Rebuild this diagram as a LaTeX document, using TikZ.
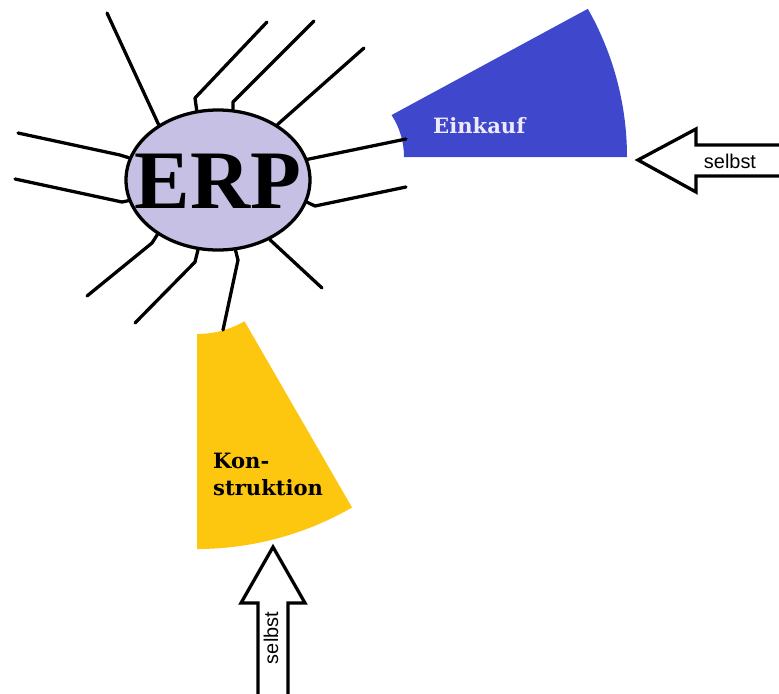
\documentclass[tikz,border=0pt]{standalone}
\usepackage{fontspec}
\setmainfont{Liberation Serif}
\newfontfamily\labelfont{DejaVu Serif}
\newfontfamily\arrowfont{Liberation Sans}
\usepackage{tikz}
\usetikzlibrary{shapes.geometric, calc}
\usepackage{xcolor}
\definecolor{erpfill}{HTML}{C5C0E4}
\definecolor{einkaufblue}{HTML}{3F48CC}
\definecolor{einkauftext}{HTML}{EFEAF8}
\definecolor{konstrgelb}{HTML}{FDC70F}

\begin{document}
\begin{tikzpicture}[
    x=0.3mm, y=0.3mm,
    spoke/.style={line width=2.8pt, line join=round, line cap=round},
    hollow/.style={draw, line width=2.8pt, line join=miter, fill=white},
    lbl/.style={font=\labelfont\bfseries\fontsize{18}{23}\selectfont, align=left, inner sep=0pt},
    selbstlbl/.style={font=\arrowfont\fontsize{17}{20}\selectfont, inner sep=0pt},
]
    \useasboundingbox (0,0) rectangle (779,-693);

    % Sectors
    \coordinate (ecenter) at (327,-157);
    \coordinate (kcenter) at (197,-239);
    \fill[einkaufblue] ($(ecenter)+(0:77)$) arc[start angle=0, end angle=33, radius=77]
        -- ($(ecenter)+(29.6:300)$) arc[start angle=29.6, end angle=0, radius=300] -- cycle;
    \fill[konstrgelb] ($(kcenter)+(-90:95)$) arc[start angle=-90, end angle=-60, radius=95]
        -- ($(kcenter)+(-60:310)$) arc[start angle=-60, end angle=-90, radius=310] -- cycle;
    \node[lbl, text=einkauftext, anchor=base west] (einkauf) at (433,-133) {Einkauf};
    \node[lbl, anchor=north west] (konstruktion) at (213,-453) {Kon-\\struktion};

    % ERP
    \node[ellipse, draw, line width=2.8pt, fill=erpfill, inner sep=0pt,
          minimum width=55.2mm, minimum height=42mm,
          label={[font=\bfseries\fontsize{71}{75}\selectfont, inner sep=0pt, yshift=-0.4mm]center:ERP}] (erp) at (218,-180) {};

    % Spokes
    \coordinate (s1) at (107,-13);
    \coordinate (s2) at (267,-22);
    \coordinate (s3) at (314,-21);
    \coordinate (s4) at (364,-48);
    \coordinate (s5) at (18,-133);
    \coordinate (s6) at (15,-179);
    \coordinate (s7) at (406,-139);
    \coordinate (s8) at (406,-187);
    \coordinate (s9) at (87,-296);
    \coordinate (s10) at (135,-323);
    \coordinate (s11) at (223,-330);
    \coordinate (s12) at (322,-288);
    \draw[spoke] (erp.137) -- (s1);
    \draw[spoke] (erp.107) -- (195,-98) -- (s2);
    \draw[spoke] (erp.78) -- (233,-102) -- (s3);
    \draw[spoke] (erp.43) -- (s4);
    \draw[spoke] (erp.166) -- (120,-155) -- (s5);
    \draw[spoke] (erp.193) -- (122,-202) -- (s6);
    \draw[spoke] (erp.13) -- (s7);
    \draw[spoke] (erp.-14) -- (315,-206) -- (s8);
    \draw[spoke] (erp.222) -- (152,-243) -- (s9);
    \draw[spoke] (erp.254) -- (195,-262) -- (s10);
    \draw[spoke] (erp.284) -- (238,-260) -- (s11);
    \draw[spoke] (erp.311) -- (s12);

    % selbst arrows
    \draw[hollow] (785,-145) -- (696,-145) -- (696,-129) -- (638,-160) -- (696,-192) -- (696,-176) -- (785,-176);
    \node[selbstlbl, anchor=base] (selbstE) at (730,-168) {selbst};
    \draw[hollow] (258,-698) -- (258,-603) -- (241,-603) -- (273,-547) -- (305,-603) -- (288,-603) -- (288,-698);
    \node[selbstlbl, rotate=90, anchor=base] (selbstK) at (278,-638) {selbst};
\end{tikzpicture}
\end{document}
